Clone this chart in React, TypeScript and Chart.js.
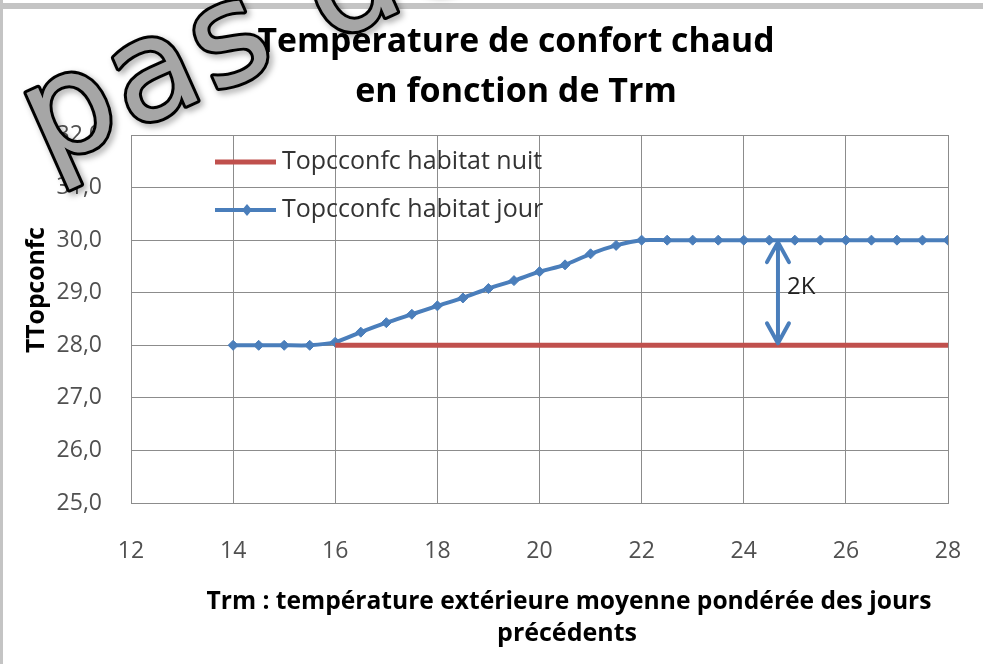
import React, { useEffect, useRef } from "react";
import { Chart, registerables } from "chart.js";

Chart.register(...registerables);

// ---- data ----
const titleLines = ["Température de confort chaud", "en fonction de Trm"];
const xTitleLines = ["Trm : température extérieure moyenne pondérée des jours", "précédents"];
const yTitle = "TTopconfc";
const seriesNames = ["Topcconfc habitat nuit", "Topcconfc habitat jour"];

const trmNuit = [16, 16.5, 17, 17.5, 18, 18.5, 19, 19.5, 20, 20.5, 21, 21.5, 22, 22.5, 23, 23.5, 24, 24.5, 25, 25.5, 26, 26.5, 27, 27.5, 28];
const topNuit = [28, 28, 28, 28, 28, 28, 28, 28, 28, 28, 28, 28, 28, 28, 28, 28, 28, 28, 28, 28, 28, 28, 28, 28, 28];

const trmJour = [14, 14.5, 15, 15.5, 16, 16.5, 17, 17.5, 18, 18.5, 19, 19.5, 20, 20.5, 21, 21.5, 22, 22.5, 23, 23.5, 24, 24.5, 25, 25.5, 26, 26.5, 27, 27.5, 28];
const topJour = [28.0, 28.0, 28.0, 28.0, 28.06, 28.25, 28.43, 28.59, 28.75, 28.9, 29.08, 29.23, 29.4, 29.53, 29.74, 29.9, 30.0, 30.0, 30.0, 30.0, 30.0, 30.0, 30.0, 30.0, 30.0, 30.0, 30.0, 30.0, 30.0];

const xMin = 12, xMax = 28, xStep = 2;
const yMin = 25, yMax = 32, yStep = 1;

// annotation: double arrow "2K"
const arrowTrm = 24.67;
const arrowLow = 28;
const arrowHigh = 30;
const arrowLabel = "2K";

const watermarkText = "a pas de";

const RED = "#c0504d";
const BLUE = "#4a7ebb";
const GRID = "#8c8c8c";

const overlay = {
  id: "overlay",
  beforeDraw(chart: any) {
    const ctx = chart.ctx;
    ctx.save();
    ctx.fillStyle = "#ffffff";
    ctx.fillRect(0, 0, chart.width, chart.height);
    ctx.fillStyle = "#c4c4c4";
    ctx.fillRect(0, 3, chart.width, 6);
    ctx.fillRect(0, 0, 3, chart.height);
    ctx.restore();
  },
  afterDraw(chart: any) {
    const ctx = chart.ctx;
    const ca = chart.chartArea;
    const xs = chart.scales.x;
    const ys = chart.scales.y;
    ctx.save();

    // title
    ctx.fillStyle = "#000";
    ctx.textAlign = "center";
    ctx.textBaseline = "alphabetic";
    ctx.font = 'bold 34px "Open Sans"';
    ctx.fillText(titleLines[0], 516, 52, 517);
    ctx.fillText(titleLines[1], 516, 102, 323);

    // legend (inside plot area)
    const legendRows = [
      { y: ca.top + 27, color: RED, lw: 5, marker: false, label: seriesNames[0] },
      { y: ca.top + 75, color: BLUE, lw: 4, marker: true, label: seriesNames[1] },
    ];
    legendRows.forEach((r) => {
      ctx.strokeStyle = r.color;
      ctx.lineWidth = r.lw;
      ctx.beginPath();
      ctx.moveTo(ca.left + 84, r.y);
      ctx.lineTo(ca.left + 145, r.y);
      ctx.stroke();
      if (r.marker) {
        const cx = ca.left + 116;
        ctx.fillStyle = r.color;
        ctx.beginPath();
        ctx.moveTo(cx, r.y - 6);
        ctx.lineTo(cx + 5, r.y);
        ctx.lineTo(cx, r.y + 6);
        ctx.lineTo(cx - 5, r.y);
        ctx.closePath();
        ctx.fill();
      }
      ctx.fillStyle = "#333";
      ctx.font = '25px "Open Sans"';
      ctx.textAlign = "left";
      ctx.textBaseline = "middle";
      ctx.fillText(r.label, ca.left + 151, r.y, 268);
    });

    // y title
    ctx.save();
    ctx.translate(37, 290);
    ctx.rotate(-Math.PI / 2);
    ctx.fillStyle = "#000";
    ctx.font = 'bold 25px "Open Sans"';
    ctx.textAlign = "center";
    ctx.textBaseline = "middle";
    ctx.fillText(yTitle, 0, 0, 126);
    ctx.restore();

    // x title
    ctx.fillStyle = "#000";
    ctx.font = 'bold 25px "Open Sans"';
    ctx.textAlign = "center";
    ctx.textBaseline = "middle";
    ctx.fillText(xTitleLines[0], 569, 602, 725);
    ctx.fillText(xTitleLines[1], 567, 634, 140);

    // double arrow
    const ax = xs.getPixelForValue(arrowTrm);
    const aTop = ys.getPixelForValue(arrowHigh);
    const aBot = ys.getPixelForValue(arrowLow);
    ctx.strokeStyle = BLUE;
    ctx.lineWidth = 4;
    ctx.lineCap = "round";
    ctx.lineJoin = "round";
    ctx.beginPath();
    ctx.moveTo(ax, aTop + 2);
    ctx.lineTo(ax, aBot - 2);
    ctx.moveTo(ax - 11, aTop + 22);
    ctx.lineTo(ax, aTop + 2);
    ctx.lineTo(ax + 11, aTop + 22);
    ctx.moveTo(ax - 11, aBot - 22);
    ctx.lineTo(ax, aBot - 2);
    ctx.lineTo(ax + 11, aBot - 22);
    ctx.stroke();
    ctx.fillStyle = "#222";
    ctx.font = '24px "Open Sans"';
    ctx.textAlign = "left";
    ctx.textBaseline = "middle";
    ctx.fillText(arrowLabel, ax + 9, (aTop + aBot) / 2 - 6);

    // watermark
    ctx.save();
    ctx.translate(46, 168);
    ctx.rotate((-24 * Math.PI) / 180);
    ctx.font = '140px "DejaVu Sans"';
    (ctx as any).letterSpacing = "4px";
    ctx.textAlign = "left";
    ctx.textBaseline = "alphabetic";
    const pre = ctx.measureText("a ").width;
    ctx.shadowColor = "rgba(0,0,0,0.35)";
    ctx.shadowBlur = 6;
    ctx.shadowOffsetX = 3;
    ctx.shadowOffsetY = 3;
    ctx.strokeStyle = "#000";
    ctx.lineWidth = 6;
    ctx.lineJoin = "round";
    ctx.strokeText(watermarkText, -pre, 0);
    ctx.shadowColor = "transparent";
    ctx.fillStyle = "#a6a6a6";
    ctx.fillText(watermarkText, -pre, 0);
    ctx.restore();

    ctx.restore();
  },
};

export default function App() {
  const ref = useRef<HTMLCanvasElement>(null);
  useEffect(() => {
    if (!ref.current) return;
    const chart = new Chart(ref.current, {
      type: "line",
      data: {
        datasets: [
          {
            label: seriesNames[0],
            data: trmNuit.map((x, i) => ({ x, y: topNuit[i] })),
            borderColor: RED,
            backgroundColor: RED,
            borderWidth: 5,
            pointRadius: 0,
            tension: 0,
          },
          {
            label: seriesNames[1],
            data: trmJour.map((x, i) => ({ x, y: topJour[i] })),
            borderColor: BLUE,
            backgroundColor: BLUE,
            borderWidth: 4,
            pointStyle: "rectRot",
            pointRadius: 5,
            pointBorderWidth: 1,
            tension: 0.2,
          },
        ],
      },
      options: {
        responsive: false,
        animation: false,
        devicePixelRatio: 1,
        layout: { padding: { left: 0, top: 135, right: 35, bottom: 0 } },
        plugins: { legend: { display: false }, tooltip: { enabled: false }, title: { display: false } },
        scales: {
          x: {
            type: "linear",
            min: xMin,
            max: xMax,
            ticks: { stepSize: xStep, padding: 35, color: "#505050", font: { family: "Open Sans", size: 23 } },
            grid: { color: GRID, drawTicks: false, lineWidth: 1 },
            border: { color: GRID },
            afterFit: (s: any) => { s.height = 161; s.paddingLeft = 0; s.paddingRight = 0; },
          },
          y: {
            type: "linear",
            min: yMin,
            max: yMax,
            ticks: {
              stepSize: yStep,
              padding: 29,
              color: "#505050",
              font: { family: "Open Sans", size: 23 },
              callback: (v: any) => Number(v).toFixed(1).replace(".", ","),
            },
            grid: { color: GRID, drawTicks: false, lineWidth: 1 },
            border: { color: GRID },
            afterFit: (s: any) => { s.width = 131; s.paddingTop = 0; s.paddingBottom = 0; },
          },
        },
      },
      plugins: [overlay],
    });
    return () => chart.destroy();
  }, []);
  return (
    <div style={{ position: "fixed", left: 0, top: 0, width: 983, height: 664, background: "#fff" }}>
      <canvas ref={ref} width={983} height={664} style={{ width: 983, height: 664, display: "block" }} />
    </div>
  );
}
